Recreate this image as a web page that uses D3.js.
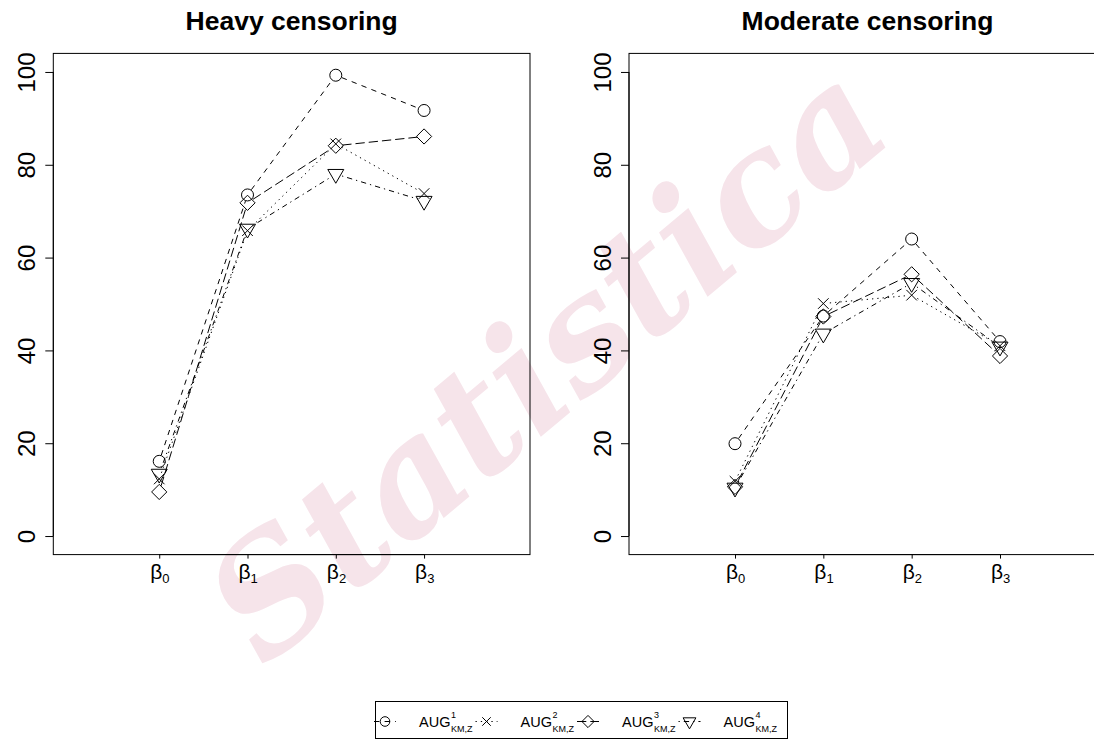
<!DOCTYPE html>
<html>
<head>
<meta charset="utf-8">
<script src="https://cdn.jsdelivr.net/npm/d3@7"></script>
<style>
  html, body { margin: 0; padding: 0; background: #fff; }
  svg { display: block; font-family: "Liberation Sans", Arial, sans-serif; }
</style>
</head>
<body>
<div id="chart"></div>
<script>
// Coefficient positions and subscripts on the x axis
const coefPositions = [1, 2, 3, 4];
const coefSubscripts = ['0', '1', '2', '3'];
const yTicks = [0, 20, 40, 60, 80, 100];

// Heavy censoring panel
const heavyAug1 = [16.1, 73.5, 99.3, 91.7];
const heavyAug2 = [12.3, 65.8, 84.5, 73.8];
const heavyAug3 = [9.5, 71.8, 84.1, 86.1];
const heavyAug4 = [13.4, 66.2, 78.0, 72.2];

// Moderate censoring panel
const moderateAug1 = [19.9, 47.4, 64.0, 41.9];
const moderateAug2 = [11.8, 50.1, 51.9, 41.0];
const moderateAug3 = [10.6, 47.3, 56.4, 38.8];
const moderateAug4 = [10.4, 43.6, 54.5, 40.8];

const seriesNames = ['1', '2', '3', '4'];   // superscripts of AUG_KM,Z
const seriesShapes = ['circle', 'cross', 'diamond', 'triangle'];
const seriesDashes = ['5.3,5.3', '1.3,4', '9.3,4', '1.3,4,5.3,4'];

function markerPath(shape) {
    // R pch shapes (1, 4, 5, 6) at cex = 1
    if (shape === 'cross') return 'M-5.3,-5.3L5.3,5.3M-5.3,5.3L5.3,-5.3';
    if (shape === 'diamond') return 'M0,-7.6L7.6,0L0,7.6L-7.6,0Z';
    if (shape === 'triangle') return 'M-8,-4.6L8,-4.6L0,9.2Z';
    return null;
}

function drawMarker(g, shape, cx, cy, scale) {
    const k = scale || 1;
    if (shape === 'circle') {
        g.append('circle')
            .attr('cx', cx).attr('cy', cy).attr('r', 6 * k)
            .attr('fill', 'none').attr('stroke', '#000').attr('stroke-width', 1);
    } else {
        g.append('path')
            .attr('d', markerPath(shape))
            .attr('transform', `translate(${cx},${cy}) scale(${k})`)
            .attr('fill', 'none').attr('stroke', '#000').attr('stroke-width', 1 / k);
    }
}

function renderPanel(svg, box, title, seriesList) {
    const g = svg.append('g');

    // scales: xlim c(0,5), ylim c(0,100) with R's 4% padding
    const x = d3.scaleLinear().domain([-0.2, 5.2]).range([box.left, box.right]);
    const y = d3.scaleLinear().domain([-4, 104]).range([box.bottom, box.top]);

    // box
    g.append('rect')
        .attr('x', box.left).attr('y', box.top)
        .attr('width', box.right - box.left).attr('height', box.bottom - box.top)
        .attr('fill', 'none').attr('stroke', '#000').attr('stroke-width', 1);

    // title
    g.append('text')
        .attr('x', (box.left + box.right) / 2)
        .attr('y', 30)
        .attr('text-anchor', 'middle')
        .style('font-size', '26.5px')
        .style('font-weight', 'bold')
        .text(title);

    // y axis
    const yAxis = g.append('g')
        .attr('transform', `translate(${box.left},0)`)
        .call(d3.axisLeft(y).tickValues(yTicks).tickSize(8).tickSizeOuter(0));
    yAxis.select('.domain').remove();
    yAxis.selectAll('line').attr('stroke', '#000');
    yAxis.selectAll('text')
        .attr('x', null).attr('dy', null)
        .attr('transform', 'translate(-18.3,0) rotate(-90)')
        .attr('text-anchor', 'middle')
        .attr('fill', '#000')
        .style('font-size', '24px')
        .style('font-family', '"Liberation Sans", Arial, sans-serif');
    g.append('line')
        .attr('x1', box.left).attr('x2', box.left)
        .attr('y1', y(0)).attr('y2', y(100))
        .attr('stroke', '#000');

    // x axis
    const xAxis = g.append('g')
        .attr('transform', `translate(0,${box.bottom})`)
        .call(d3.axisBottom(x).tickValues(coefPositions).tickSize(4).tickSizeOuter(0).tickFormat(''));
    xAxis.select('.domain').remove();
    xAxis.selectAll('line').attr('stroke', '#000');
    g.append('line')
        .attr('x1', x(coefPositions[0])).attr('x2', x(coefPositions[coefPositions.length - 1]))
        .attr('y1', box.bottom).attr('y2', box.bottom)
        .attr('stroke', '#000');

    coefPositions.forEach((p, i) => {
        const t = g.append('text')
            .attr('x', x(p) - 9)
            .attr('y', 579);
        t.append('tspan').style('font-size', '21px').text('β');
        t.append('tspan').attr('dy', 4).style('font-size', '13px').text(coefSubscripts[i]);
    });

    // series: type = "b" (points + lines with gaps)
    const gap = 6.5;
    seriesList.forEach((vals, s) => {
        const pts = vals.map((v, i) => [x(coefPositions[i]), y(v)]);
        for (let i = 0; i < pts.length - 1; i++) {
            const [x1, y1] = pts[i];
            const [x2, y2] = pts[i + 1];
            const len = Math.hypot(x2 - x1, y2 - y1);
            const ux = (x2 - x1) / len, uy = (y2 - y1) / len;
            g.append('path')
                .attr('d', d3.line()([[x1 + ux * gap, y1 + uy * gap], [x2 - ux * gap, y2 - uy * gap]]))
                .attr('fill', 'none')
                .attr('stroke', '#000')
                .attr('stroke-width', 1)
                .attr('stroke-dasharray', seriesDashes[s]);
        }
        pts.forEach(([px, py]) => drawMarker(g, seriesShapes[s], px, py, 1));
    });
}

// ============================================================================
// SETUP
// ============================================================================
const W = 1094, H = 740;
const svg = d3.select('#chart').append('svg')
    .attr('width', W).attr('height', H);

// watermark
svg.append('text')
    .attr('transform', 'translate(555,372) rotate(-40)')
    .attr('text-anchor', 'middle')
    .attr('dominant-baseline', 'middle')
    .style('font-family', '"DejaVu Serif", serif')
    .style('font-style', 'italic')
    .style('font-weight', 'bold')
    .style('font-size', '155px')
    .attr('fill', '#f6e4ea')
    .text('Statistica');

renderPanel(svg, { left: 53.3, right: 530, top: 53.4, bottom: 554.6 }, 'Heavy censoring',
    [heavyAug1, heavyAug2, heavyAug3, heavyAug4]);
renderPanel(svg, { left: 629, right: 1106, top: 53.4, bottom: 554.6 }, 'Moderate censoring',
    [moderateAug1, moderateAug2, moderateAug3, moderateAug4]);

// ============================================================================
// LEGEND
// ============================================================================
const legend = svg.append('g');
legend.append('rect')
    .attr('x', 375.5).attr('y', 701.5).attr('width', 412).attr('height', 37)
    .attr('fill', '#fff').attr('stroke', '#000').attr('stroke-width', 1);

const legendX = d3.scaleLinear().domain([0, 1]).range([385, 486.5]);
seriesNames.forEach((name, s) => {
    const mx = legendX(s);
    const my = 721.5;
    legend.append('line')
        .attr('x1', mx - 11).attr('x2', mx + 11)
        .attr('y1', my).attr('y2', my)
        .attr('stroke', '#000')
        .attr('stroke-dasharray', seriesDashes[s]);
    drawMarker(legend, seriesShapes[s], mx, my, 0.8);

    const tx = mx + 34;
    const main = legend.append('text')
        .attr('x', tx).attr('y', 727.3)
        .style('font-size', '14.5px')
        .text('AUG');
    const w = main.node().getComputedTextLength();
    legend.append('text')
        .attr('x', tx + w + 0.5).attr('y', 718)
        .style('font-size', '9px')
        .text(name);
    legend.append('text')
        .attr('x', tx + w + 0.5).attr('y', 732)
        .style('font-size', '9px')
        .text('KM,Z');
});
</script>
</body>
</html>
